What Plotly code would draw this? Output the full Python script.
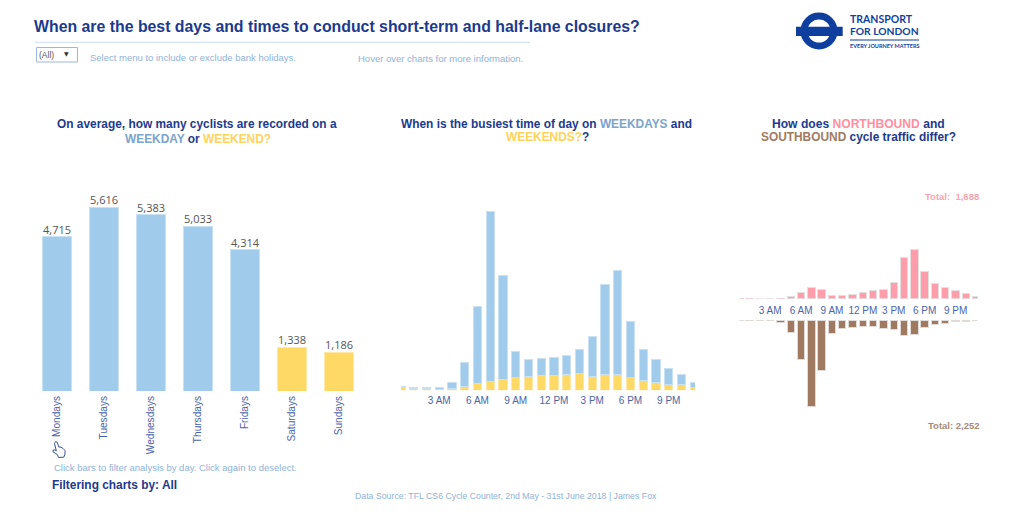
import plotly.graph_objects as go

W, H = 1024, 514

days = ["Mondays", "Tuesdays", "Wednesdays", "Thursdays", "Fridays", "Saturdays", "Sundays"]
day_counts = [4715, 5616, 5383, 5033, 4314, 1338, 1186]
hours = list(range(24))
hour_ticks = [3, 6, 9, 12, 15, 18, 21]
hour_labels = ["3 AM", "6 AM", "9 AM", "12 PM", "3 PM", "6 PM", "9 PM"]
weekend_by_hour = [18, 8, 8, 4, 10, 24, 42, 52, 64, 74, 84, 88, 88, 94, 102, 84, 94, 94, 74, 56, 46, 36, 32, 18]
weekday_by_hour = [6, 6, 6, 14, 36, 142, 460, 1024, 624, 158, 100, 102, 106, 114, 144, 238, 540, 622, 338, 190, 138, 96, 62, 28]
north_by_hour = [2, 2, 0, 0, 2, 14, 46, 79, 67, 26, 24, 31, 46, 58, 67, 118, 295, 353, 199, 113, 79, 58, 34, 17]
south_by_hour = [2, 2, 2, 7, 19, 89, 281, 624, 367, 94, 60, 55, 48, 48, 60, 65, 113, 106, 53, 31, 24, 12, 12, 2]

NAVY = "#1c3a8c"
TICK = "#4a64a8"
SUB = "#8fb2d9"
BLUE = "#a0cbea"
YELLOW = "#ffd966"
PINK = "#ff9dab"
BROWN = "#a07a60"
TXTBLUE = "#7ba4cc"
TXTYEL = "#ffd35c"
SANS = "Liberation Sans"


def px(x):
    return x / W


def py(y):
    return 1 - y / H


fig = go.Figure()

fig.add_trace(go.Bar(
    x=days, y=day_counts, xaxis="x", yaxis="y", width=0.61,
    marker=dict(color=[BLUE] * 5 + [YELLOW] * 2,
                line=dict(color=["#c9e1f3"] * 5 + ["#ffe8a6"] * 2, width=1)),
    showlegend=False,
))
fig.add_trace(go.Bar(
    x=hours, y=weekend_by_hour, xaxis="x2", yaxis="y2", showlegend=False, width=0.66,
    marker=dict(color=YELLOW, line=dict(color="#ffe8a6", width=1)),
))
fig.add_trace(go.Bar(
    x=hours, y=weekday_by_hour, xaxis="x2", yaxis="y2", showlegend=False, width=0.66,
    marker=dict(color=BLUE, line=dict(color="#c9e1f3", width=1)),
))
fig.add_trace(go.Bar(
    x=hours, y=north_by_hour, xaxis="x3", yaxis="y3", showlegend=False, width=0.72,
    marker=dict(color=PINK, line=dict(color="#e6dfe0", width=1)),
))
fig.add_trace(go.Bar(
    x=hours, y=south_by_hour, xaxis="x4", yaxis="y4", showlegend=False, width=0.72,
    marker=dict(color=BROWN, line=dict(color="#e0dbd7", width=1)),
))

hidden_y = dict(visible=False, showgrid=False, zeroline=False, fixedrange=True)
hour_axis = dict(tickmode="array", tickvals=hour_ticks, ticktext=hour_labels, showgrid=False,
                 zeroline=False, showline=False, ticks="",
                 tickfont=dict(family=SANS, size=10, color=TICK))

fig.update_layout(
    width=W, height=H, autosize=False, margin=dict(l=0, r=0, t=0, b=0),
    paper_bgcolor="white", plot_bgcolor="white", barmode="stack",
    xaxis=dict(domain=[px(33.7), px(362.7)], range=[-0.5, 6.5], showgrid=False, zeroline=False,
               showline=False, ticks="", tickangle=-90, anchor="y", ticklabelstandoff=2,
               tickfont=dict(family=SANS, size=10.1, color=TICK)),
    yaxis=dict(domain=[py(391), py(180)], range=[0, 6441], anchor="x", **hidden_y),
    xaxis2=dict(domain=[px(401), px(695)], range=[0, 23.06], anchor="y2", ticklabelstandoff=3, **hour_axis),
    yaxis2=dict(domain=[py(390.3), py(200)], range=[0, 1142], anchor="x2", **hidden_y),
    xaxis3=dict(domain=[px(739.3), px(977.5)], range=[0, 23.13], anchor="y3", ticklabelstandoff=4, **hour_axis),
    yaxis3=dict(domain=[py(298.7), py(190)], range=[0, 783], anchor="x3", **hidden_y),
    xaxis4=dict(domain=[px(739.3), px(977.5)], range=[0, 23.13], anchor="y4", visible=False),
    yaxis4=dict(domain=[py(420), py(320)], range=[720, 0], anchor="x4", **hidden_y),
)

for day, count in zip(days, day_counts):
    fig.add_annotation(
        xref="x", yref="y", x=day, y=count, xanchor="center", yanchor="bottom", yshift=-1,
        text=f"{count:,}", showarrow=False, borderpad=0,
        font=dict(family="Open Sans", size=11, color="#555555"),
    )


def label(x, y, text, size, color, bold=False, anchor="left", family=SANS):
    fig.add_annotation(
        xref="paper", yref="paper", x=px(x), y=py(y), xanchor=anchor, yanchor="middle",
        text=f"<b>{text}</b>" if bold else text, showarrow=False,
        font=dict(family=family, size=size, color=color), borderpad=0, borderwidth=0,
    )


def tint(text, color):
    return f'<span style="color:{color}">{text}</span>'


label(34, 26, "When are the best days and times to conduct short-term and half-lane closures?", 15.85, NAVY, True)
label(90, 57, "Select menu to include or exclude bank holidays.", 9.5, SUB)
label(358, 58, "Hover over charts for more information.", 9.5, SUB)
label(39, 55, "(All)", 8.5, "#555555")
label(64, 54, "▼", 6, "#333333", family="DejaVu Sans")

label(196.5, 124, "On average, how many cyclists are recorded on a", 11.9, NAVY, True, "center")
label(198, 139, tint("WEEKDAY", TXTBLUE) + " or " + tint("WEEKEND?", TXTYEL), 11.9, NAVY, True, "center")
label(546, 124, "When is the busiest time of day on " + tint("WEEKDAYS", TXTBLUE) + " and", 11.9, NAVY, True, "center")
label(547, 137, tint("WEEKENDS?", TXTYEL) + "?", 11.9, NAVY, True, "center")
label(858.5, 124, "How does " + tint("NORTHBOUND", "#ff8f9e") + " and", 12.1, NAVY, True, "center")
label(858.5, 137, tint("SOUTHBOUND", BROWN) + " cycle traffic differ?", 11.9, NAVY, True, "center")

label(979, 196, "Total:  1,688", 9.5, "#f9a3ae", True, "right")
label(980, 425, "Total: 2,252", 9.5, "#a98a76", True, "right")

label(54, 467, "Click bars to filter analysis by day. Click again to deselect.", 9.5, SUB)
label(52, 485, "Filtering charts by: All", 11.9, NAVY, True)
label(506, 496, "Data Source: TFL CS6 Cycle Counter, 2nd May - 31st June 2018 | James Fox", 8.75, SUB, False, "center")

ROUNDEL = "#0f3f9e"
label(850, 19.5, "TRANSPORT", 10.5, ROUNDEL, True, family="Lato")
label(850, 31, "FOR LONDON", 10.3, ROUNDEL, True, family="Lato")
label(850, 45.5, "EVERY JOURNEY MATTERS", 5.5, ROUNDEL, True, family="Lato")


def path(points):
    return "M " + " L ".join(f"{px(x):.5f},{py(y):.5f}" for x, y in points) + " Z"


hand_outline = [(54.5, 443.5), (55.5, 441.7), (57.2, 442.2), (58.8, 447), (61, 447.2), (63.2, 448.6),
                (65, 450.5), (65, 454), (63.8, 457.2), (58.6, 457.5), (57.2, 454.5), (53, 451.8),
                (53, 450.2), (54.5, 449.8), (56.3, 450.8)]
paper = dict(xref="paper", yref="paper")
shapes = [
    dict(type="line", x0=px(35), x1=px(530), y0=py(42.3), y1=py(42.3), line=dict(color="#ccdaef", width=1), **paper),
    dict(type="rect", x0=px(36.5), x1=px(77.5), y0=py(47.5), y1=py(62), line=dict(color="#9db8dd", width=1), **paper),
    dict(type="circle", x0=px(804), x1=px(834), y0=py(16), y1=py(46), line=dict(color=ROUNDEL, width=7), **paper),
    dict(type="rect", x0=px(796), x1=px(842.7), y0=py(26.7), y1=py(36), fillcolor=ROUNDEL, line=dict(width=0), **paper),
    dict(type="line", x0=px(850), x1=px(919), y0=py(40), y1=py(40), line=dict(color=ROUNDEL, width=1), **paper),
    dict(type="path", path=path(hand_outline), line=dict(color="#3a5590", width=1), fillcolor="white", **paper),
]
fig.update_layout(shapes=shapes)

fig.write_html("out.html", config=dict(displayModeBar=False),
               post_script="document.body.style.margin='0';document.body.style.overflow='hidden';")
